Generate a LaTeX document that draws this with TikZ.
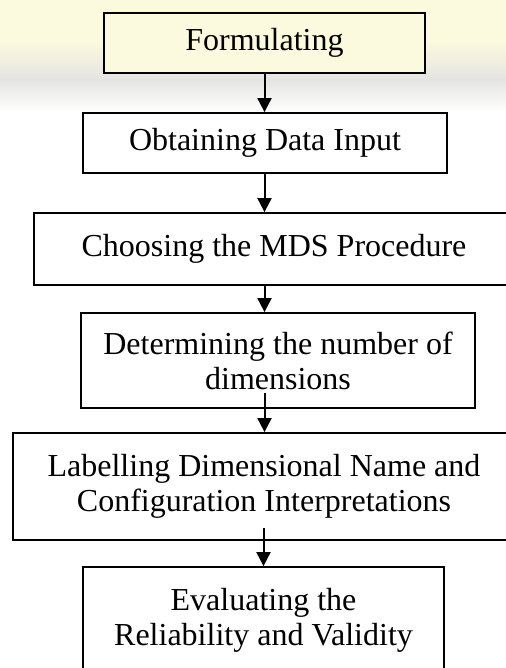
\documentclass[tikz,border=0pt]{standalone}
\usepackage{fontspec}
\setmainfont{Liberation Serif}
\usetikzlibrary{arrows.meta}
\definecolor{markyellow}{RGB}{252,250,222}
\definecolor{markgray}{RGB}{228,228,226}

\begin{document}
\begin{tikzpicture}[x=0.5pt, y=-0.5pt,
        stage/.style={draw, line width=0.9pt, inner sep=0pt, align=center, font=\fontsize{16}{17.5}\selectfont},
        flow/.style={-{Triangle[width=7pt, length=7pt]}, line width=1pt}
    ]
        \useasboundingbox (0,0) rectangle (506,668);

        % faint watermark at the top
        \fill[markyellow] (0,0) rectangle (506,40);
        \shade[top color=markyellow, bottom color=markgray] (0,40) rectangle (506,80);
        \shade[top color=markgray, bottom color=white] (0,80) rectangle (506,112);

        \node[stage, fill=markyellow, minimum width=160.5pt, minimum height=30pt] (form) at (264.5, 43) {Formulating};
        \node[stage, fill=white, minimum width=182pt, minimum height=30pt] (obtain) at (265, 143) {Obtaining Data Input};
        \node[stage, minimum width=240pt, minimum height=36pt] (choose) at (274, 249) {Choosing the MDS Procedure};
        \node[stage, minimum width=197pt, minimum height=47.5pt] (dims) at (278, 360.5) {Determining the number of\\ dimensions};
        \node[stage, minimum width=251pt, minimum height=53.5pt] (label) at (264, 486.5) {Labelling Dimensional Name and\\ Configuration Interpretations};
        \node[stage, minimum width=180.5pt, minimum height=53pt] (eval) at (263.5, 620) {Evaluating the\\ Reliability and Validity};

        \draw[flow] (form.south) -- (obtain.north -| form);
        \draw[flow] (obtain.south -| form) -- (choose.north -| form);
        \draw[flow] (choose.south -| form) -- (dims.north -| form);
        \draw[flow] ([yshift=8pt]dims.south -| form) -- (label.north -| form);
        \draw[flow] ([yshift=6.5pt]label.south -| eval) -- (eval.north);
    \end{tikzpicture}
\end{document}
